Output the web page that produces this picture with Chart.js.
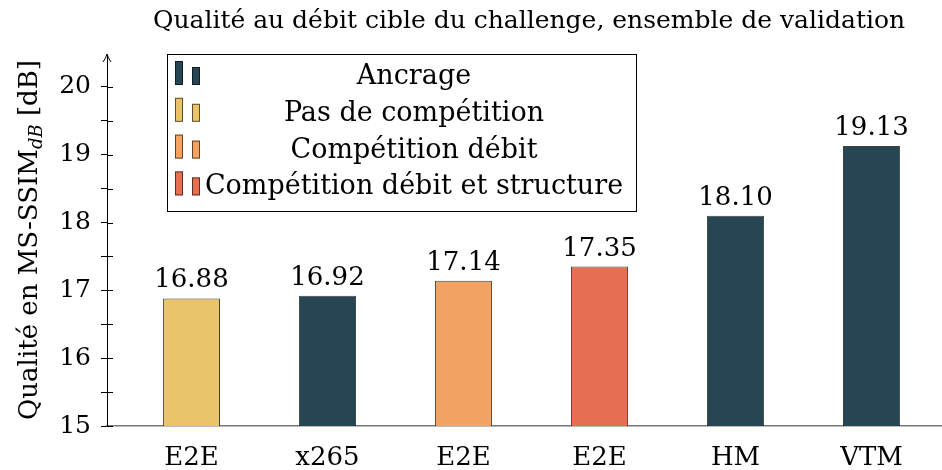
<!DOCTYPE html>
<html>
<head>
<meta charset="utf-8">
<script src="https://cdn.jsdelivr.net/npm/chart.js@4"></script>
<style>
  html, body { margin: 0; padding: 0; background: #fff; }
  #wrap { width: 942px; height: 470px; }
</style>
</head>
<body>
<div id="wrap"><canvas id="chart" width="942" height="470"></canvas></div>
<script>
// data
const categories = ['E2E', 'x265', 'E2E', 'E2E', 'HM', 'VTM'];
const values = [16.88, 16.92, 17.14, 17.35, 18.10, 19.13];
const barGroups = [1, 0, 2, 3, 0, 0];
const groupNames = ['Ancrage', 'Pas de compétition', 'Compétition débit', 'Compétition débit et structure'];
const groupColors = ['#264653', '#E9C46A', '#F4A261', '#E76F51'];
const yTicks = [15, 16, 17, 18, 19, 20];
const yMinorTicks = [15.5, 16.5, 17.5, 18.5, 19.5];

const FONT = '"DejaVu Serif", serif';
const titleText = 'Qualité au débit cible du challenge, ensemble de validation';

const decorPlugin = {
    id: 'decor',
    afterDraw(chart) {
        const ctx = chart.ctx;
        const area = chart.chartArea;
        const yScale = chart.scales.y;
        ctx.save();

        // inner halves of the y tick marks
        ctx.strokeStyle = '#000';
        ctx.lineWidth = 1;
        yTicks.concat(yMinorTicks).forEach(v => {
            const py = Math.round(yScale.getPixelForValue(v)) + 0.5;
            ctx.beginPath();
            ctx.moveTo(area.left, py);
            ctx.lineTo(area.left + 6, py);
            ctx.stroke();
        });

        // arrow on top of the y axis
        ctx.beginPath();
        ctx.moveTo(area.left - 4, area.top + 7);
        ctx.quadraticCurveTo(area.left - 1, area.top + 3, area.left, area.top - 1);
        ctx.quadraticCurveTo(area.left + 1, area.top + 3, area.left + 4, area.top + 7);
        ctx.stroke();

        // title
        ctx.fillStyle = '#000';
        ctx.font = '25px ' + FONT;
        ctx.textAlign = 'center';
        ctx.textBaseline = 'alphabetic';
        ctx.fillText(titleText, 529, 28);

        // y axis title with subscript
        ctx.save();
        ctx.translate(37, 240);
        ctx.rotate(-Math.PI / 2);
        const mainTxt = 'Qualité en MS-SSIM';
        const subTxt = 'dB';
        const tailTxt = ' [dB]';
        ctx.font = '26px ' + FONT;
        const w1 = ctx.measureText(mainTxt).width;
        const w3 = ctx.measureText(tailTxt).width;
        ctx.font = 'italic 18px ' + FONT;
        const w2 = ctx.measureText(subTxt).width;
        let x = -(w1 + w2 + w3) / 2;
        ctx.textAlign = 'left';
        ctx.font = '26px ' + FONT;
        ctx.fillText(mainTxt, x, 0);
        x += w1;
        ctx.font = 'italic 18px ' + FONT;
        ctx.fillText(subTxt, x, 5);
        x += w2;
        ctx.font = '26px ' + FONT;
        ctx.fillText(tailTxt, x, 0);
        ctx.restore();

        // value labels above bars
        const meta = chart.getDatasetMeta(0);
        ctx.font = '26px ' + FONT;
        ctx.textAlign = 'center';
        ctx.textBaseline = 'alphabetic';
        meta.data.forEach((bar, i) => {
            ctx.fillText(values[i].toFixed(2), bar.x, bar.y - 11);
        });

        // legend box
        const lx = 167, ly = 54, lw = 469, lh = 157;
        ctx.fillStyle = '#fff';
        ctx.fillRect(lx, ly, lw, lh);
        ctx.strokeStyle = '#000';
        ctx.lineWidth = 1;
        ctx.strokeRect(lx + 0.5, ly + 0.5, lw, lh);
        ctx.font = '27px ' + FONT;
        ctx.textBaseline = 'middle';
        groupNames.forEach((name, i) => {
            const cy = 76 + i * 36.8;
            ctx.fillStyle = groupColors[i];
            ctx.strokeStyle = 'rgba(0,0,0,0.6)';
            ctx.fillRect(175, cy - 15, 8, 24);
            ctx.strokeRect(175.5, cy - 14.5, 7, 23);
            ctx.fillRect(192, cy - 9, 8, 18);
            ctx.strokeRect(192.5, cy - 8.5, 7, 17);
            ctx.fillStyle = '#000';
            ctx.textAlign = 'center';
            ctx.fillText(name, 414, cy + 1);
        });

        ctx.restore();
    }
};

const ctx = document.getElementById('chart').getContext('2d');
new Chart(ctx, {
    type: 'bar',
    data: {
        datasets: [{
            data: values.map((v, i) => ({ x: i, y: v })),
            backgroundColor: barGroups.map(g => groupColors[g]),
            borderColor: 'rgba(0,0,0,0.75)',
            borderWidth: 1,
            barPercentage: 0.42,
            categoryPercentage: 1.0
        }]
    },
    options: {
        responsive: false,
        animation: false,
        events: [],
        layout: { padding: { top: 55, right: 0, bottom: 0, left: 0 } },
        plugins: {
            legend: { display: false },
            title: { display: false },
            tooltip: { enabled: false }
        },
        scales: {
            x: {
                type: 'linear',
                min: -0.621,
                max: 5.518,
                offset: false,
                afterBuildTicks: s => { s.ticks = categories.map((c, i) => ({ value: i })); },
                afterFit: s => { s.height = 44; },
                grid: { display: false },
                border: { color: '#777', width: 1.5 },
                ticks: {
                    padding: 9,
                    maxRotation: 0,
                    autoSkip: false,
                    color: '#000',
                    font: { family: FONT, size: 26 },
                    callback: v => categories[v] ?? ''
                }
            },
            y: {
                min: 15,
                max: 20.47,
                afterBuildTicks: s => {
                    s.ticks = yTicks.concat(yMinorTicks).sort((a, b) => a - b).map(v => ({ value: v }));
                },
                afterFit: s => { s.width = 107; },
                grid: { drawOnChartArea: false, drawTicks: true, tickLength: 6, color: '#000' },
                border: { color: '#000', width: 1 },
                ticks: {
                    padding: 10,
                    color: '#000',
                    font: { family: FONT, size: 25 },
                    callback: v => Number.isInteger(v) ? String(v) : ''
                }
            }
        }
    },
    plugins: [decorPlugin]
});
</script>
</body>
</html>
